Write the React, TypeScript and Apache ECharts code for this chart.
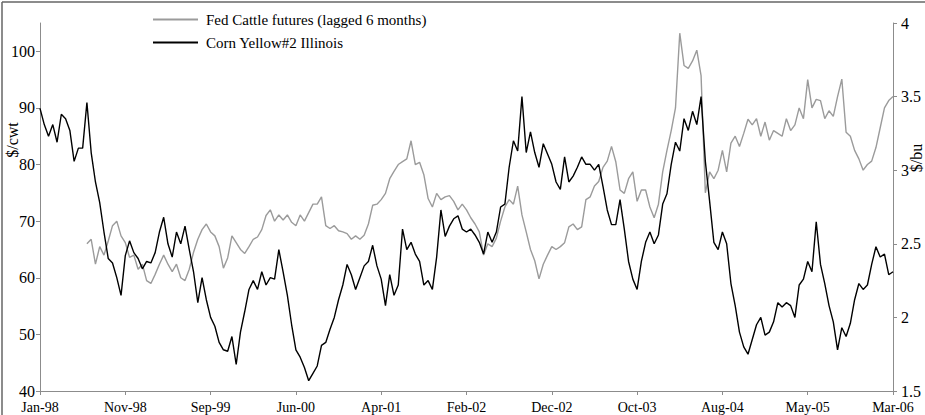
import React, { useEffect, useRef } from "react";
import * as echarts from "echarts";

const tickLabels = ["Jan-98", "Nov-98", "Sep-99", "Jun-00", "Apr-01", "Feb-02", "Dec-02", "Oct-03", "Aug-04", "May-05", "Mar-06"];
const pointsPerTick = 20;

const seriesNames = ["Fed Cattle futures (lagged 6 months)", "Corn Yellow#2 Illinois"];

// Fed Cattle futures, $/cwt (left axis), lagged 6 months
const cattle: (number | null)[] = [
  null, null, null, null, null, null, null, null, null, null, null,
  66, 66.8, 62.4, 65.5, 64, 66.5, 69.2, 70, 67.4, 66.2,
  63.6, 64, 61.5, 62.4, 59.5, 59, 60.6, 62.4, 64, 62.4,
  61.1, 62.4, 60, 59.5, 61.5, 64.5, 66.8, 68.5, 69.5, 68.1,
  67.4, 65.5, 61.7, 63.5, 67.4, 66.2, 65, 64.3, 65.5, 66.8,
  67.2, 68.5, 71, 72, 70, 71.1, 70.2, 71.1, 69.8, 69.2,
  71.1, 70, 71.5, 73, 73, 74.3, 69.2, 68.7, 69.2, 68.3,
  68.1, 67.8, 66.8, 67.4, 66.8, 67.5, 69.5, 72.8, 73, 73.8,
  74.9, 77.5, 78.8, 80, 80.5, 81, 84.2, 80, 80.4, 78.2,
  74, 72.5, 74.9, 73.8, 74.3, 74.5, 73.5, 72, 73, 72,
  70.6, 69.5, 68.1, 64, 66, 65.5, 67, 70, 72.5, 73.8,
  73, 76.2, 71.1, 68.1, 65, 63, 59.8, 62.4, 64, 65.5,
  65, 65.5, 66.2, 69, 69.5, 68.5, 69, 73.8, 74.3, 76.2,
  77, 79.5, 80.6, 83.2, 80.5, 75.5, 74.9, 77.5, 78.7, 73.5,
  75.5, 75.5, 72.5, 70.6, 73, 78.7, 82.5, 86, 90, 103.2,
  97.5, 97, 98.3, 100.2, 95.7, 75, 78.7, 77.5, 79, 82.5,
  78.7, 83.8, 85, 83.2, 85.5, 88, 87, 88.1, 85, 87.5,
  84.3, 86, 85.5, 85, 88.1, 86, 87, 90, 88.1, 95,
  90, 91.5, 91.3, 88.1, 89.5, 88.5, 92, 95.1, 85.7, 85,
  82.5, 81, 79, 80, 80.6, 83, 86.5, 90, 91.3, 92,
];

// Corn Yellow #2 Illinois, $/bu (right axis)
const corn: number[] = [
  3.42,
  3.31, 3.23, 3.31, 3.19, 3.38, 3.35, 3.27, 3.06, 3.15, 3.15,
  3.46, 3.12, 2.92, 2.78, 2.58, 2.40, 2.37, 2.27, 2.15, 2.42,
  2.52, 2.44, 2.40, 2.33, 2.38, 2.37, 2.44, 2.58, 2.68, 2.50,
  2.41, 2.58, 2.50, 2.62, 2.46, 2.31, 2.10, 2.27, 2.12, 2.00,
  1.94, 1.83, 1.78, 1.77, 1.87, 1.68, 1.90, 2.04, 2.19, 2.25,
  2.19, 2.31, 2.22, 2.27, 2.26, 2.46, 2.31, 2.15, 1.95, 1.78,
  1.73, 1.66, 1.57, 1.62, 1.67, 1.81, 1.83, 1.92, 2.00, 2.12,
  2.22, 2.36, 2.29, 2.19, 2.27, 2.35, 2.38, 2.49, 2.35, 2.26,
  2.08, 2.29, 2.15, 2.22, 2.60, 2.46, 2.51, 2.43, 2.38, 2.22,
  2.25, 2.19, 2.41, 2.73, 2.55, 2.62, 2.67, 2.69, 2.60, 2.58,
  2.60, 2.56, 2.51, 2.43, 2.58, 2.51, 2.58, 2.75, 2.77, 3.02,
  3.20, 3.13, 3.50, 3.12, 3.26, 3.12, 3.02, 3.18, 3.11, 3.04,
  2.92, 2.87, 3.09, 2.92, 2.96, 3.02, 3.09, 3.04, 3.04, 3.00,
  3.04, 2.89, 2.73, 2.63, 2.63, 2.80, 2.60, 2.38, 2.26, 2.19,
  2.38, 2.51, 2.58, 2.50, 2.56, 2.77, 2.84, 3.04, 3.19, 3.13,
  3.35, 3.27, 3.40, 3.31, 3.50, 3.06, 2.79, 2.51, 2.46, 2.58,
  2.50, 2.23, 2.08, 1.90, 1.80, 1.75, 1.85, 1.95, 2.00, 1.88,
  1.90, 1.97, 2.10, 2.07, 2.10, 2.08, 2.00, 2.22, 2.26, 2.38,
  2.31, 2.65, 2.36, 2.23, 2.08, 1.97, 1.78, 1.93, 1.87, 1.96,
  2.12, 2.23, 2.19, 2.22, 2.36, 2.48, 2.41, 2.43, 2.29, 2.31,
];

const leftTicks = [40, 50, 60, 70, 80, 90, 100];

const FONT = "'Liberation Serif', 'Times New Roman', serif";

export default function App() {
  const ref = useRef<HTMLDivElement>(null);
  useEffect(() => {
    if (!ref.current) return;
    const chart = echarts.init(ref.current, undefined, { renderer: "svg" });
    const lastIndex = (tickLabels.length - 1) * pointsPerTick;
    const labelStyle = { color: "#000", fontFamily: FONT, fontSize: 16 };
    chart.setOption({
      animation: false,
      backgroundColor: "#fff",
      grid: { left: 40, right: 32, top: 23, bottom: 24 },
      legend: {
        orient: "vertical",
        left: 148,
        top: 7,
        itemWidth: 45,
        itemHeight: 2,
        itemGap: 8,
        icon: "rect",
        textStyle: { color: "#000", fontFamily: FONT, fontSize: 15, padding: [0, 0, 0, 3] },
        data: seriesNames,
      },
      xAxis: {
        type: "value",
        min: 0,
        max: lastIndex,
        interval: pointsPerTick,
        splitLine: { show: false },
        axisLine: { lineStyle: { color: "#8c8c8c", width: 1 } },
        axisTick: { lineStyle: { color: "#8c8c8c" }, length: 4 },
        axisLabel: {
          ...labelStyle,
          fontSize: 14,
          margin: 9,
          formatter: (v: number) => tickLabels[Math.round(v / pointsPerTick)] ?? "",
        },
      },
      yAxis: [
        {
          type: "value",
          min: 40,
          max: 105,
          interval: 10,
          splitLine: { show: false },
          axisLine: { show: true, lineStyle: { color: "#8c8c8c", width: 1 } },
          axisTick: { show: true, length: 4, lineStyle: { color: "#8c8c8c" }, customValues: leftTicks },
          axisLabel: { ...labelStyle, margin: 5, customValues: leftTicks },
        },
        {
          type: "value",
          min: 1.5,
          max: 4,
          interval: 0.5,
          position: "right",
          splitLine: { show: false },
          axisLine: { show: true, lineStyle: { color: "#8c8c8c", width: 1 } },
          axisTick: { show: true, length: 4, lineStyle: { color: "#8c8c8c" } },
          axisLabel: { ...labelStyle, margin: 8 },
        },
      ],
      graphic: [
        { type: "line", shape: { x1: 2, y1: 2, x2: 925, y2: 2 }, style: { stroke: "#666", lineWidth: 1.5 } },
        { type: "line", shape: { x1: 2, y1: 2, x2: 2, y2: 415 }, style: { stroke: "#666", lineWidth: 1.5 } },
        {
          type: "text",
          x: 12,
          y: 140,
          rotation: Math.PI / 2,
          style: { text: "$/cwt", fill: "#000", font: `16px ${FONT}`, textAlign: "center", textVerticalAlign: "middle" },
        },
        {
          type: "text",
          x: 916,
          y: 158,
          rotation: Math.PI / 2,
          style: { text: "$/bu", fill: "#000", font: `16px ${FONT}`, textAlign: "center", textVerticalAlign: "middle" },
        },
      ],
      series: [
        {
          name: seriesNames[0],
          type: "line",
          yAxisIndex: 0,
          showSymbol: false,
          color: "#9b9b9b",
          lineStyle: { color: "#9b9b9b", width: 1.4 },
          data: cattle.map((v, i) => [i, v]),
        },
        {
          name: seriesNames[1],
          type: "line",
          yAxisIndex: 1,
          showSymbol: false,
          color: "#000",
          lineStyle: { color: "#000", width: 1.4 },
          data: corn.map((v, i) => [i, v]),
        },
      ],
    });
    return () => chart.dispose();
  }, []);
  return <div ref={ref} style={{ position: "fixed", left: 0, top: 0, width: 925, height: 415 }} />;
}
